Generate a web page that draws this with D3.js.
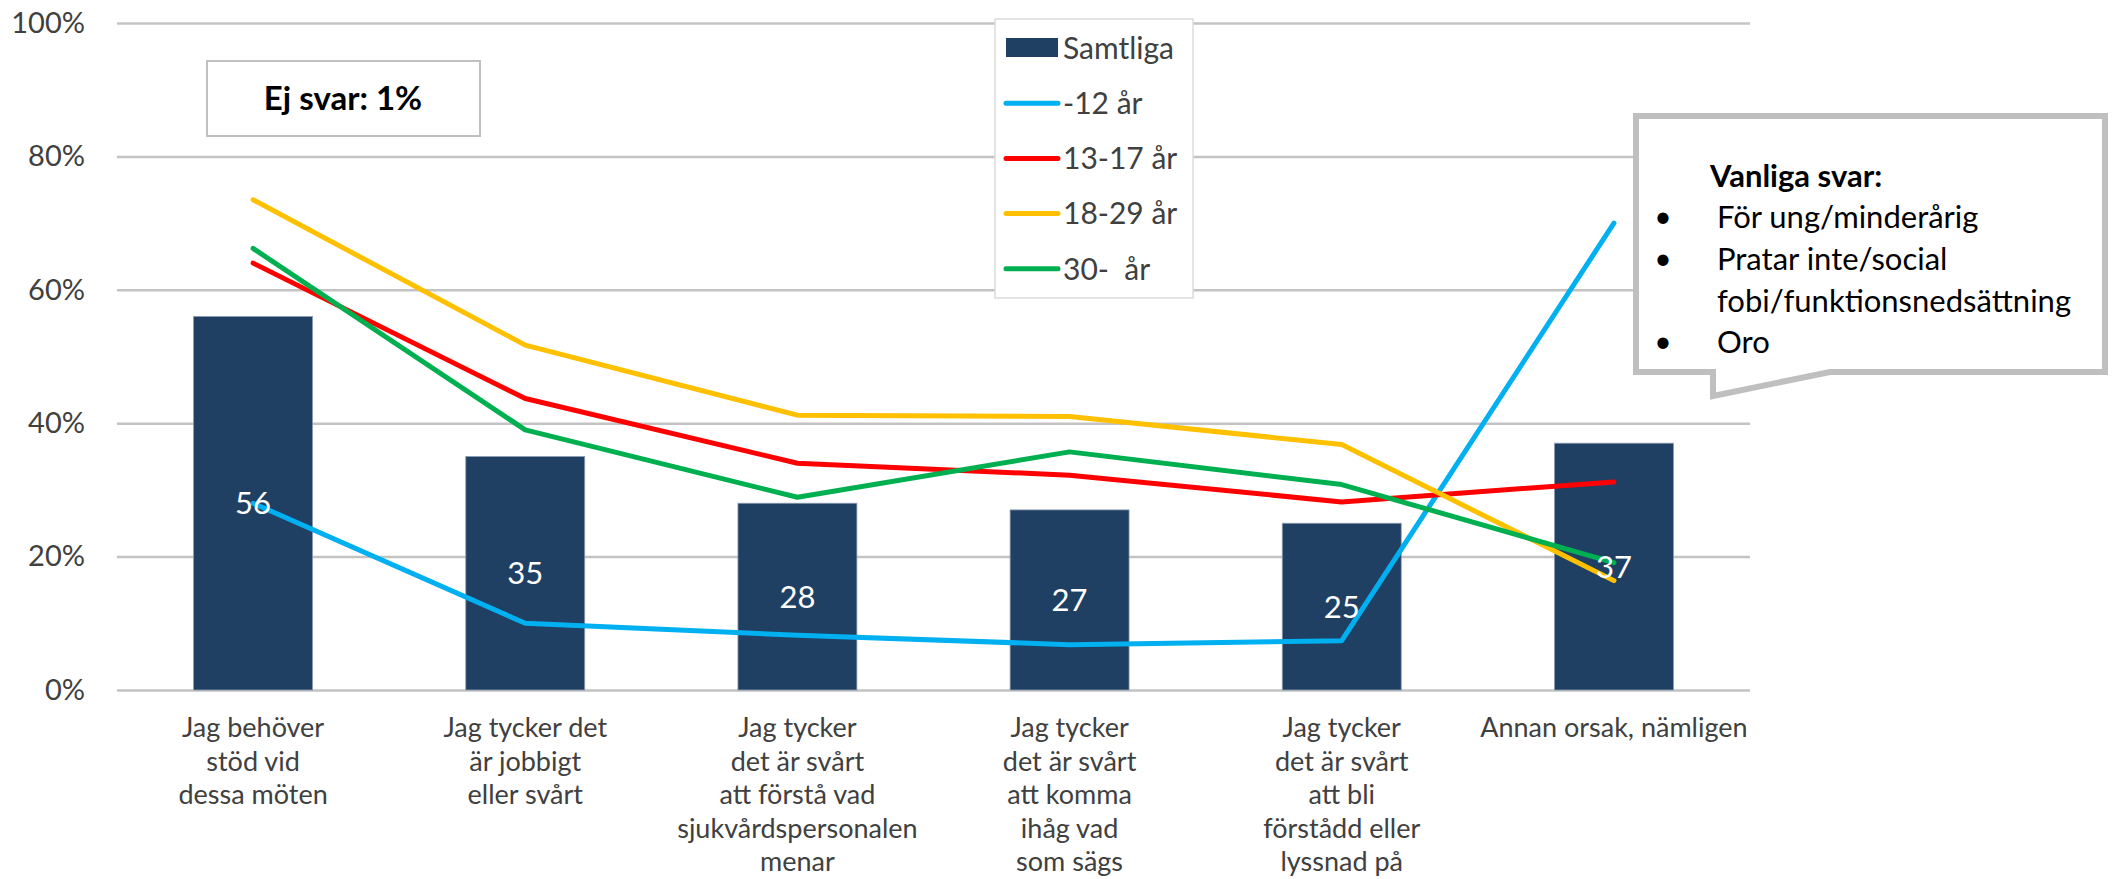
<!DOCTYPE html>
<html>
<head>
<meta charset="utf-8">
<script src="https://cdn.jsdelivr.net/npm/d3@7"></script>
<style>
  body { margin: 0; background: #fff; }
  text { font-family: Lato, "Open Sans", sans-serif; }
</style>
</head>
<body>
<div class="chart"></div>
<script>
// categories (each split in lines as on the axis)
const categories = [
    ['Jag behöver', 'stöd vid', 'dessa möten'],
    ['Jag tycker det', 'är jobbigt', 'eller svårt'],
    ['Jag tycker', 'det är svårt', 'att förstå vad', 'sjukvårdspersonalen', 'menar'],
    ['Jag tycker', 'det är svårt', 'att komma', 'ihåg vad', 'som sägs'],
    ['Jag tycker', 'det är svårt', 'att bli', 'förstådd eller', 'lyssnad på'],
    ['Annan orsak, nämligen']
]
const samtliga = [56, 35, 28, 27, 25, 37]
const under12 = [28, 10, 8.2, 6.8, 7.4, 70]
const age13_17 = [64, 43.7, 34, 32.2, 28.2, 31.2]
const age18_29 = [73.5, 51.7, 41.2, 41, 36.8, 16.4]
const age30 = [66.2, 39, 28.9, 35.7, 30.8, 19.1]
const yTicks = [0, 20, 40, 60, 80, 100]
const seriesNames = ['-12 år', '13-17 år', '18-29 år', '30-  år']
const calloutLines = ['För ung/minderårig', 'Pratar inte/social', 'fobi/funktionsnedsättning', 'Oro']

const lineSeries = [
    {name: seriesNames[0], values: under12, color: '#00b0f0'},
    {name: seriesNames[1], values: age13_17, color: '#ff0000'},
    {name: seriesNames[2], values: age18_29, color: '#ffc000'},
    {name: seriesNames[3], values: age30, color: '#00b050'}
]

const width = 2116
const height = 879
const margin = {top: 23, right: 366, bottom: 189, left: 117}

const svg = d3.select('.chart').append('svg')
    .attr('width', width)
    .attr('height', height)

const ids = categories.map((c, i) => i)

const xScale = d3.scaleBand()
    .domain(ids)
    .range([margin.left, width - margin.right])
    .paddingInner(0.563)
    .paddingOuter(0.2815)

const yScale = d3.scaleLinear()
    .domain([0, 100])
    .range([height - margin.bottom, margin.top])

// gridlines + y labels
const yAxis = d3.axisLeft(yScale)
    .tickValues(yTicks)
    .tickSize(-(width - margin.right - margin.left))
    .tickPadding(32)
    .tickFormat(d => d + '%')

svg.append('g')
    .attr('class', 'axis y-axis')
    .attr('transform', 'translate(' + margin.left + ',0)')
    .call(yAxis)
    .call(g => g.select('.domain').remove())
    .call(g => g.selectAll('.tick line').attr('stroke', '#c3c3c3').attr('stroke-width', 2.5))
    .call(g => g.selectAll('.tick text')
        .attr('fill', '#404040')
        .style('font-size', '29px')
        .style('font-family', 'Lato, sans-serif'))

// bars
const cx = i => xScale(i) + xScale.bandwidth() / 2

svg.selectAll('.bar')
    .data(samtliga)
    .enter()
    .append('rect')
    .attr('class', 'bar')
    .attr('x', (d, i) => xScale(i))
    .attr('y', d => yScale(d))
    .attr('width', xScale.bandwidth())
    .attr('height', d => yScale(0) - yScale(d))
    .attr('fill', '#1f3f63')
    .attr('stroke', '#8a9bb0')
    .attr('stroke-width', 0.8)

// x labels
const xLabels = svg.append('g').attr('class', 'x-labels')
categories.forEach((lines, i) => {
    const t = xLabels.append('text')
        .attr('x', cx(i))
        .attr('y', yScale(0) + 47)
        .attr('text-anchor', 'middle')
        .attr('fill', '#404040')
        .style('font-size', '27px')
    lines.forEach((l, j) => {
        t.append('tspan')
            .attr('x', cx(i))
            .attr('dy', j === 0 ? 0 : 33.5)
            .text(l)
    })
})

// lines
const line = d3.line()
    .x((d, i) => cx(i))
    .y(d => yScale(d))

svg.selectAll('.series')
    .data(lineSeries)
    .enter()
    .append('path')
    .attr('class', 'series')
    .attr('d', d => line(d.values))
    .attr('fill', 'none')
    .attr('stroke', d => d.color)
    .attr('stroke-width', 5)
    .attr('stroke-linejoin', 'round')
    .attr('stroke-linecap', 'round')

// value labels
svg.selectAll('.val')
    .data(samtliga)
    .enter()
    .append('text')
    .attr('class', 'val')
    .attr('x', (d, i) => cx(i))
    .attr('y', d => (yScale(d) + yScale(0)) / 2)
    .attr('dy', '0.36em')
    .attr('text-anchor', 'middle')
    .attr('fill', '#fff')
    .style('font-size', '31px')
    .text(d => d)

// Ej svar box
svg.append('rect')
    .attr('x', 207).attr('y', 61)
    .attr('width', 273).attr('height', 75)
    .attr('fill', '#fff')
    .attr('stroke', '#c0c0c0')
    .attr('stroke-width', 2)
svg.append('text')
    .attr('x', 343).attr('y', 98)
    .attr('dy', '0.36em')
    .attr('text-anchor', 'middle')
    .style('font-size', '33px')
    .style('font-weight', 'bold')
    .attr('fill', '#000')
    .text('Ej svar: 1%')

// legend
const legend = svg.append('g').attr('class', 'legend')
legend.append('rect')
    .attr('x', 995).attr('y', 19)
    .attr('width', 198).attr('height', 279)
    .attr('fill', '#fff')
    .attr('stroke', '#dcdcdc')
    .attr('stroke-width', 1.5)

const legendItems = [{name: 'Samtliga', color: '#1f3f63', bar: true}].concat(lineSeries)
legendItems.forEach((d, i) => {
    const y = 48 + i * 55.2
    if (d.bar) {
        legend.append('rect')
            .attr('x', 1006).attr('y', y - 10)
            .attr('width', 52).attr('height', 19)
            .attr('fill', d.color)
    } else {
        legend.append('line')
            .attr('x1', 1006).attr('x2', 1058)
            .attr('y1', y).attr('y2', y)
            .attr('stroke', d.color)
            .attr('stroke-width', 5)
            .attr('stroke-linecap', 'round')
    }
    legend.append('text')
        .attr('x', 1063).attr('y', y)
        .attr('dy', '0.36em')
        .attr('fill', '#404040')
        .style('font-size', '30px')
        .style('white-space', 'pre')
        .attr('xml:space', 'preserve')
        .text(d.name)
})

// callout
const callout = svg.append('g').attr('class', 'callout')
callout.append('path')
    .attr('d', 'M1636,116 H2105 V372 H1830 L1713,396 V372 H1636 Z')
    .attr('fill', '#fff')
    .attr('stroke', '#bfbfbf')
    .attr('stroke-width', 6)
    .attr('stroke-linejoin', 'miter')
callout.append('text')
    .attr('x', 1710).attr('y', 187)
    .style('font-size', '31px')
    .style('font-weight', 'bold')
    .attr('fill', '#000')
    .text('Vanliga svar:')
const baselines = [228, 270, 312, 353]
calloutLines.forEach((l, i) => {
    if (i !== 2) {
        callout.append('text')
            .attr('x', 1663).attr('y', baselines[i] - 10)
            .attr('text-anchor', 'middle')
            .attr('dy', '0.3em')
            .style('font-size', '30px')
            .attr('fill', '#000')
            .text('•')
    }
    callout.append('text')
        .attr('x', 1717).attr('y', baselines[i])
        .style('font-size', '31px')
        .attr('fill', '#000')
        .text(l)
})
</script>
</body>
</html>
